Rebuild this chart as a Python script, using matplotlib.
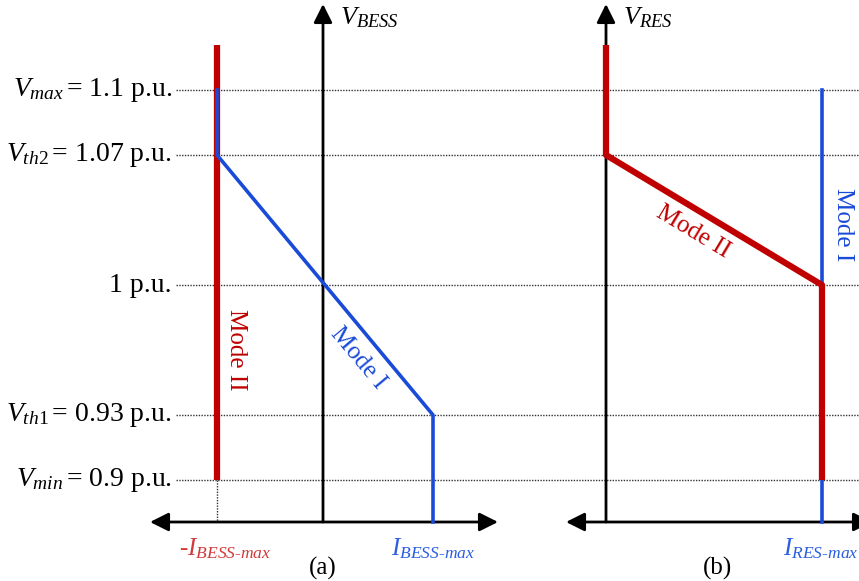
import matplotlib.pyplot as plt

plt.rcParams['font.family'] = 'Liberation Serif'
plt.rcParams['mathtext.fontset'] = 'custom'
plt.rcParams['mathtext.rm'] = 'Liberation Serif'
plt.rcParams['mathtext.it'] = 'Liberation Serif:italic'

# voltage levels (p.u.) and their names
v_names = ['max', 'th2', '', 'th1', 'min']
v_values = [1.1, 1.07, 1.0, 0.93, 0.9]

# diagram is not to scale: pixel rows for each level
v_rows = [90, 155, 285, 415, 480]
row = dict(zip(v_values, v_rows))

RED = '#c00000'
BLUE = '#1a4bd8'
RED_TXT = '#d03a3a'
BLUE_TXT = '#2a5ee0'

fig = plt.figure(figsize=(8.59, 5.81), dpi=100)
ax = fig.add_axes([0, 0, 1, 1])
ax.set_xlim(0, 859)
ax.set_ylim(581, 0)
ax.axis('off')

y_axis_h = 522
fs = 18
fs_lab = 20

# dotted grid lines + level labels
for name, val in zip(v_names, v_values):
    y = row[val]
    ax.plot([176, 859], [y, y], color='#333333', lw=1.0, ls=(0, (1, 1)), zorder=1)
    if name:
        lab = r'$V_{%s}\,$= %s p.u.' % (name, f'{val:g}')
    else:
        lab = f'{val:g} p.u.'
    ax.text(172, y, lab, ha='right', va='center', fontsize=fs_lab)

head = dict(arrowstyle='-|>', color='black', lw=2, mutation_scale=28, shrinkA=0, shrinkB=0)
both = dict(arrowstyle='<|-|>', color='black', lw=2, mutation_scale=28, shrinkA=0, shrinkB=0)

# ---- panel (a): BESS ----
xa0, xa_neg, xa_pos = 323, 217, 433
ax.annotate('', xy=(xa0, 4), xytext=(xa0, y_axis_h), arrowprops=head, zorder=3)
ax.annotate('', xy=(150, y_axis_h), xytext=(498, y_axis_h), arrowprops=both, zorder=3)
ax.text(xa0 + 17, 18, r'$V_{BESS}$', ha='left', va='center', fontsize=19)

ax.plot([xa_neg, xa_neg], [45, row[0.9]], color=RED, lw=4.5, solid_capstyle='butt', zorder=4)
ax.plot([xa_neg, xa_neg], [row[0.9], y_axis_h], color='#333333', lw=1.0, ls=(0, (1, 1)), zorder=2)
ax.plot([xa_neg, xa_neg, xa_pos, xa_pos], [row[1.1], row[1.07], row[0.93], y_axis_h],
        color=BLUE, lw=2.6, zorder=5)

ax.text(236, 350, 'Mode II', color=RED, fontsize=fs, rotation=-90, ha='center', va='center')
ax.text(358, 358, 'Mode I', color=BLUE, fontsize=fs, rotation=-50, ha='center', va='center',
        rotation_mode='anchor')

ax.text(xa_neg + 8, 549, r'-$I_{BESS\text{-}max}$', color=RED_TXT, fontsize=fs, ha='center', va='center')
ax.text(xa_pos, 549, r'$I_{BESS\text{-}max}$', color=BLUE_TXT, fontsize=fs, ha='center', va='center')
ax.text(xa0, 568, '(a)', fontsize=fs, ha='center', va='center')

# ---- panel (b): RES ----
xb0, xb_pos = 606, 822
ax.annotate('', xy=(xb0, 4), xytext=(xb0, y_axis_h), arrowprops=head, zorder=3)
ax.annotate('', xy=(566, y_axis_h), xytext=(872, y_axis_h), arrowprops=both, zorder=3)
ax.text(xb0 + 17, 18, r'$V_{RES}$', ha='left', va='center', fontsize=19)

ax.plot([xb_pos, xb_pos], [row[1.1], y_axis_h], color=BLUE, lw=2.6, zorder=4)
ax.plot([xb0, xb0, xb_pos, xb_pos], [45, row[1.07], row[1.0], row[0.9]],
        color=RED, lw=4.5, solid_capstyle='butt', zorder=5)

ax.text(693, 232, 'Mode II', color=RED, fontsize=fs, rotation=-31, ha='center', va='center',
        rotation_mode='anchor')
ax.text(843, 225, 'Mode I', color=BLUE, fontsize=fs, rotation=-90, ha='center', va='center')

ax.text(783, 549, r'$I_{RES\text{-}max}$', color=BLUE_TXT, fontsize=fs, ha='left', va='center')
ax.text(718, 568, '(b)', fontsize=fs, ha='center', va='center')

fig.savefig('out.png', dpi=100)
